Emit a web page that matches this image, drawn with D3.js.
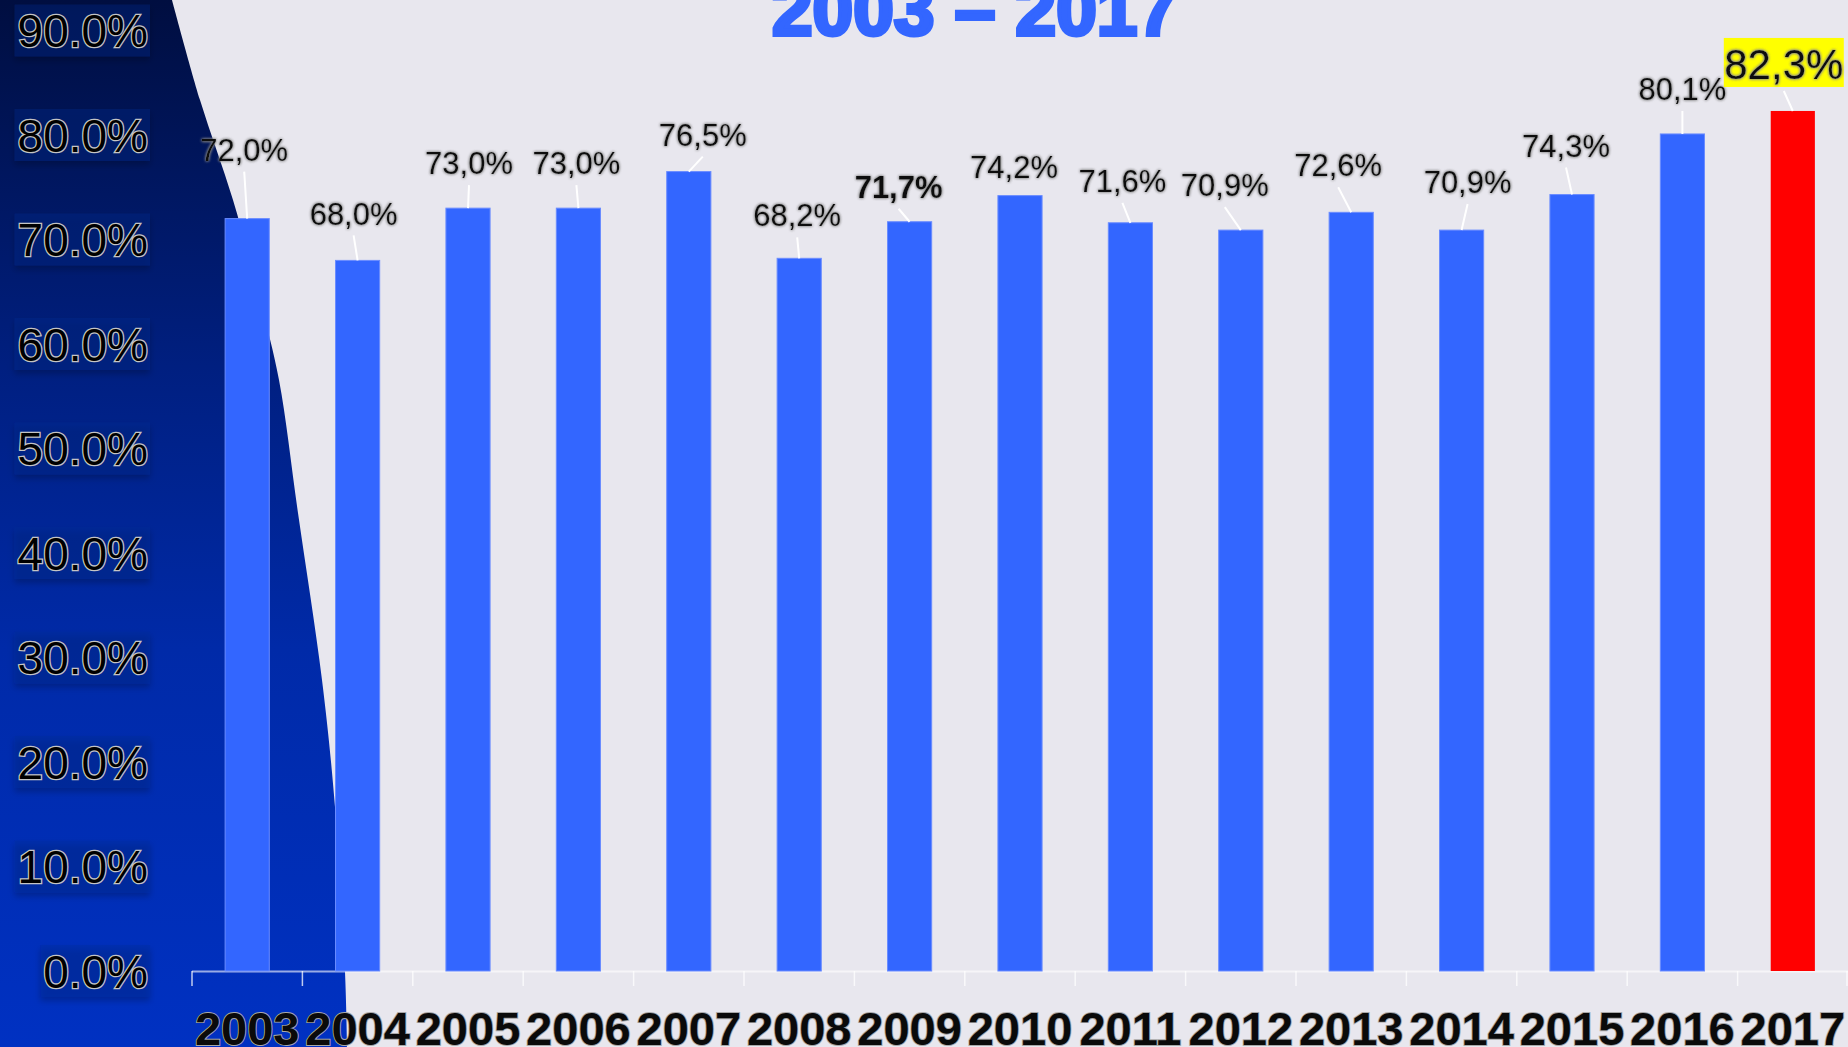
<!DOCTYPE html>
<html>
<head>
<meta charset="utf-8">
<script src="https://cdn.jsdelivr.net/npm/d3@7"></script>
<style>
  html, body { margin: 0; padding: 0; background: #e8e7ee; overflow: hidden; }
  svg { display: block; }
</style>
</head>
<body>
<div id="container"></div>
<script>

// data
var years = ["2003","2004","2005","2006","2007","2008","2009","2010","2011","2012","2013","2014","2015","2016","2017"];
var values = [72.0, 68.0, 73.0, 73.0, 76.5, 68.2, 71.7, 74.2, 71.6, 70.9, 72.6, 70.9, 74.3, 80.1, 82.3];
var yTicks = [0, 10, 20, 30, 40, 50, 60, 70, 80, 90];
var title = "2003 \u2013 2017";

// where each value label sits relative to the top of its bar
var labelDx = [-3, -4, 1, -2, 14, -2, -11, -6, -8, -16, -13, 6, -6, 0, -9];
var labelDy = [-69, -47, -45, -45, -37, -43, -35, -29, -42, -45, -47, -48, -49, -45, -47];

var W = 1848, H = 1047;

var svg = d3.select("#container").append("svg")
    .attr("width", W)
    .attr("height", H);

var defs = svg.append("defs");

var grad = defs.append("linearGradient")
    .attr("id", "leftbg")
    .attr("x1", 0).attr("y1", 0).attr("x2", 0).attr("y2", 1);
grad.append("stop").attr("offset", 0).attr("stop-color", "#000e40");
grad.append("stop").attr("offset", 0.35).attr("stop-color", "#001f80");
grad.append("stop").attr("offset", 0.62).attr("stop-color", "#002aa8");
grad.append("stop").attr("offset", 1).attr("stop-color", "#0031c2");

var shadow = defs.append("filter").attr("id", "boxshadow")
    .attr("x", "-10%").attr("y", "-20%").attr("width", "130%").attr("height", "160%");
shadow.append("feDropShadow")
    .attr("dx", 0).attr("dy", 4).attr("stdDeviation", 3)
    .attr("flood-color", "#000").attr("flood-opacity", 0.7);

var glow = defs.append("filter").attr("id", "glow")
    .attr("x", "-10%").attr("y", "-30%").attr("width", "120%").attr("height", "160%");
glow.append("feGaussianBlur").attr("in", "SourceAlpha").attr("stdDeviation", 1.6).attr("result", "b");
glow.append("feFlood").attr("flood-color", "#8a8a8a").attr("result", "c");
glow.append("feComposite").attr("in", "c").attr("in2", "b").attr("operator", "in").attr("result", "g");
var gm = glow.append("feMerge");
gm.append("feMergeNode").attr("in", "g");
gm.append("feMergeNode").attr("in", "g");
gm.append("feMergeNode").attr("in", "SourceGraphic");

// background: light page with the dark blue swoosh on the left
svg.append("rect").attr("width", W).attr("height", H).attr("fill", "#e8e7ee");

var edge = [[172,0],[200,100],[233,200],[260,300],[279,380],[298,513],[322,680],[335,807],[345,972],[347,1047]];
svg.append("path")
    .attr("d", d3.line().curve(d3.curveCatmullRom)(edge) + "L0,1047L0,0Z")
    .attr("fill", "url(#leftbg)");

// scales
var x = d3.scaleBand()
    .domain(years)
    .range([192, 1848])
    .paddingInner(0.6)
    .paddingOuter(0.3);

var y = d3.scaleLinear()
    .domain([0, 90])
    .range([971, 30.5]);

// title, mostly cut off by the top edge
svg.append("text")
    .attr("x", 975)
    .attr("y", 35)
    .attr("text-anchor", "middle")
    .style("font-family", "'Liberation Sans', Arial, sans-serif")
    .style("font-weight", "bold")
    .style("font-size", "73px")
    .attr("fill", "#3366ff")
    .attr("stroke", "#3366ff")
    .attr("stroke-width", 4)
    .text(title);

// y labels in little dark boxes
var yl = svg.append("g").attr("class", "ylabels");
yTicks.forEach(function(t){
    var g = yl.append("g");
    var box = g.append("rect");
    var txt = g.append("text")
	.attr("x", 148)
	.attr("y", y(t))
	.attr("dy", "0.36em")
	.attr("text-anchor", "end")
	.style("font-family", "'Liberation Sans', Arial, sans-serif")
	.style("font-size", "46px")
	.attr("fill", "#000")
	.attr("stroke", "#c4c4c4")
	.attr("stroke-width", 2.6)
	.style("paint-order", "stroke")
	.text(t.toFixed(1) + "%");
    var bb = txt.node().getBBox();
    box.attr("x", bb.x - 3)
	.attr("y", y(t) - 26)
	.attr("width", 150 - bb.x + 3)
	.attr("height", 52)
	.attr("fill", "rgba(0,40,150,0.3)")
	.attr("filter", "url(#boxshadow)");
});

// x axis
var xa = svg.append("g").attr("class", "xaxis");
xa.append("line")
    .attr("x1", 192).attr("x2", 1848)
    .attr("y1", 971.5).attr("y2", 971.5)
    .attr("stroke", "rgba(255,255,255,0.6)")
    .attr("stroke-width", 2);
var edges = years.map(function(d){ return x(d) - x.step() * 0.3; }).concat([1847]);
xa.selectAll("line.tick").data(edges).enter().append("line")
    .attr("class", "tick")
    .attr("x1", function(d){ return d; })
    .attr("x2", function(d){ return d; })
    .attr("y1", 971).attr("y2", 986)
    .attr("stroke", "rgba(255,255,255,0.75)")
    .attr("stroke-width", 1.5);

xa.selectAll("text").data(years).enter().append("text")
    .attr("x", function(d){ return x(d) + x.bandwidth() / 2; })
    .attr("y", 1045)
    .attr("text-anchor", "middle")
    .style("font-family", "'Liberation Sans', Arial, sans-serif")
    .style("font-weight", "bold")
    .style("font-size", "47px")
    .attr("fill", "#0a0a0a")
    .attr("stroke", "#a8a8a8")
    .attr("stroke-width", 1.8)
    .style("paint-order", "stroke")
    .text(function(d){ return d; });

// bars
svg.selectAll("rect.bar").data(values).enter().append("rect")
    .attr("class", "bar")
    .attr("x", function(d, i){ return x(years[i]); })
    .attr("y", function(d){ return y(d); })
    .attr("width", x.bandwidth())
    .attr("height", function(d){ return y(0) - y(d); })
    .attr("fill", function(d, i){ return i == years.length - 1 ? "#ff0000" : "#3366ff"; })
    .attr("stroke", function(d, i){ return i == years.length - 1 ? "none" : "#6a8cff"; })
    .attr("stroke-width", 1);

// value labels with leader lines
var labels = svg.append("g").attr("class", "values");
values.forEach(function(v, i){
    var last = i == values.length - 1;
    var cx = x(years[i]) + x.bandwidth() / 2;
    var lx = cx + labelDx[i];
    var ly = y(v) + labelDy[i];
    var startY = ly + (last ? 27 : 22);

    if (y(v) - startY > 10) {
	labels.append("line")
	    .attr("x1", lx).attr("y1", startY)
	    .attr("x2", cx).attr("y2", y(v))
	    .attr("stroke", "#ffffff")
	    .attr("stroke-width", 2);
    }

    if (last) {
	labels.append("rect")
	    .attr("x", lx - 60).attr("y", ly - 26)
	    .attr("width", 120).attr("height", 49)
	    .attr("fill", "#ffff00");
    }

    labels.append("text")
	.attr("x", lx)
	.attr("y", ly)
	.attr("dy", "0.36em")
	.attr("text-anchor", "middle")
	.style("font-family", "'Liberation Sans', Arial, sans-serif")
	.style("font-weight", i == 6 ? "bold" : "normal")
	.style("font-size", last ? "42px" : "31px")
	.attr("fill", "#111")
	.attr("filter", "url(#glow)")
	.text(v.toFixed(1).replace(".", ",") + "%");
});

</script>
</body>
</html>
